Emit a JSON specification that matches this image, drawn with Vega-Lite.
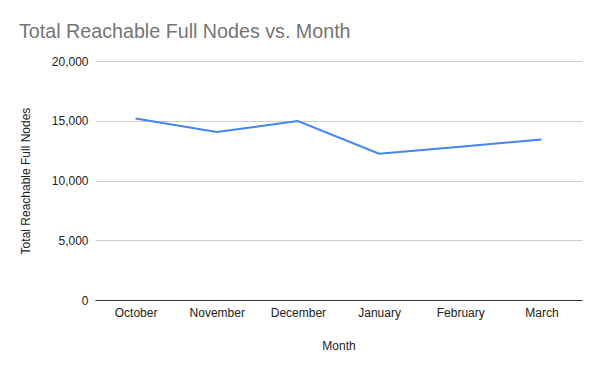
{
  "$schema": "https://vega.github.io/schema/vega-lite/v6.json",
  "autosize": "none",
  "padding": {"left": 95, "top": 61, "right": 18, "bottom": 71},
  "width": 487,
  "height": 239,
  "background": "white",
  "config": {"view": {"stroke": null}},
  "title": {
    "text": "Total Reachable Full Nodes vs. Month",
    "anchor": "start",
    "frame": "group",
    "dx": -76,
    "offset": 13,
    "limit": 0,
    "font": "Liberation Sans",
    "fontSize": 19.7,
    "fontWeight": "normal",
    "color": "#757575"
  },
  "data": {
    "values": [
      {"Month": "October", "Nodes": 15180},
      {"Month": "November", "Nodes": 14050},
      {"Month": "December", "Nodes": 14970},
      {"Month": "January", "Nodes": 12240},
      {"Month": "February", "Nodes": 12830},
      {"Month": "March", "Nodes": 13430}
    ]
  },
  "mark": {"type": "line", "color": "#4285F4", "strokeWidth": 2},
  "encoding": {
    "x": {
      "field": "Month",
      "type": "ordinal",
      "sort": null,
      "scale": {"type": "point", "padding": 0.5},
      "axis": {
        "title": "Month",
        "labelAngle": 0,
        "ticks": false,
        "domain": true,
        "domainColor": "#333333",
        "domainWidth": 1,
        "labelPadding": 7,
        "titlePadding": 22,
        "labelFont": "Liberation Sans",
        "titleFont": "Liberation Sans",
        "labelFontSize": 12,
        "titleFontSize": 12,
        "titleFontWeight": "normal",
        "labelColor": "#222222",
        "titleColor": "#222222"
      }
    },
    "y": {
      "field": "Nodes",
      "type": "quantitative",
      "scale": {"domain": [0, 20000]},
      "axis": {
        "title": "Total Reachable Full Nodes",
        "values": [0, 5000, 10000, 15000, 20000],
        "format": ",d",
        "ticks": false,
        "domain": false,
        "gridColor": "#cccccc",
        "labelPadding": 7,
        "titlePadding": 19,
        "labelFont": "Liberation Sans",
        "titleFont": "Liberation Sans",
        "labelFontSize": 12,
        "titleFontSize": 12,
        "titleFontWeight": "normal",
        "labelColor": "#222222",
        "titleColor": "#222222"
      }
    }
  }
}
